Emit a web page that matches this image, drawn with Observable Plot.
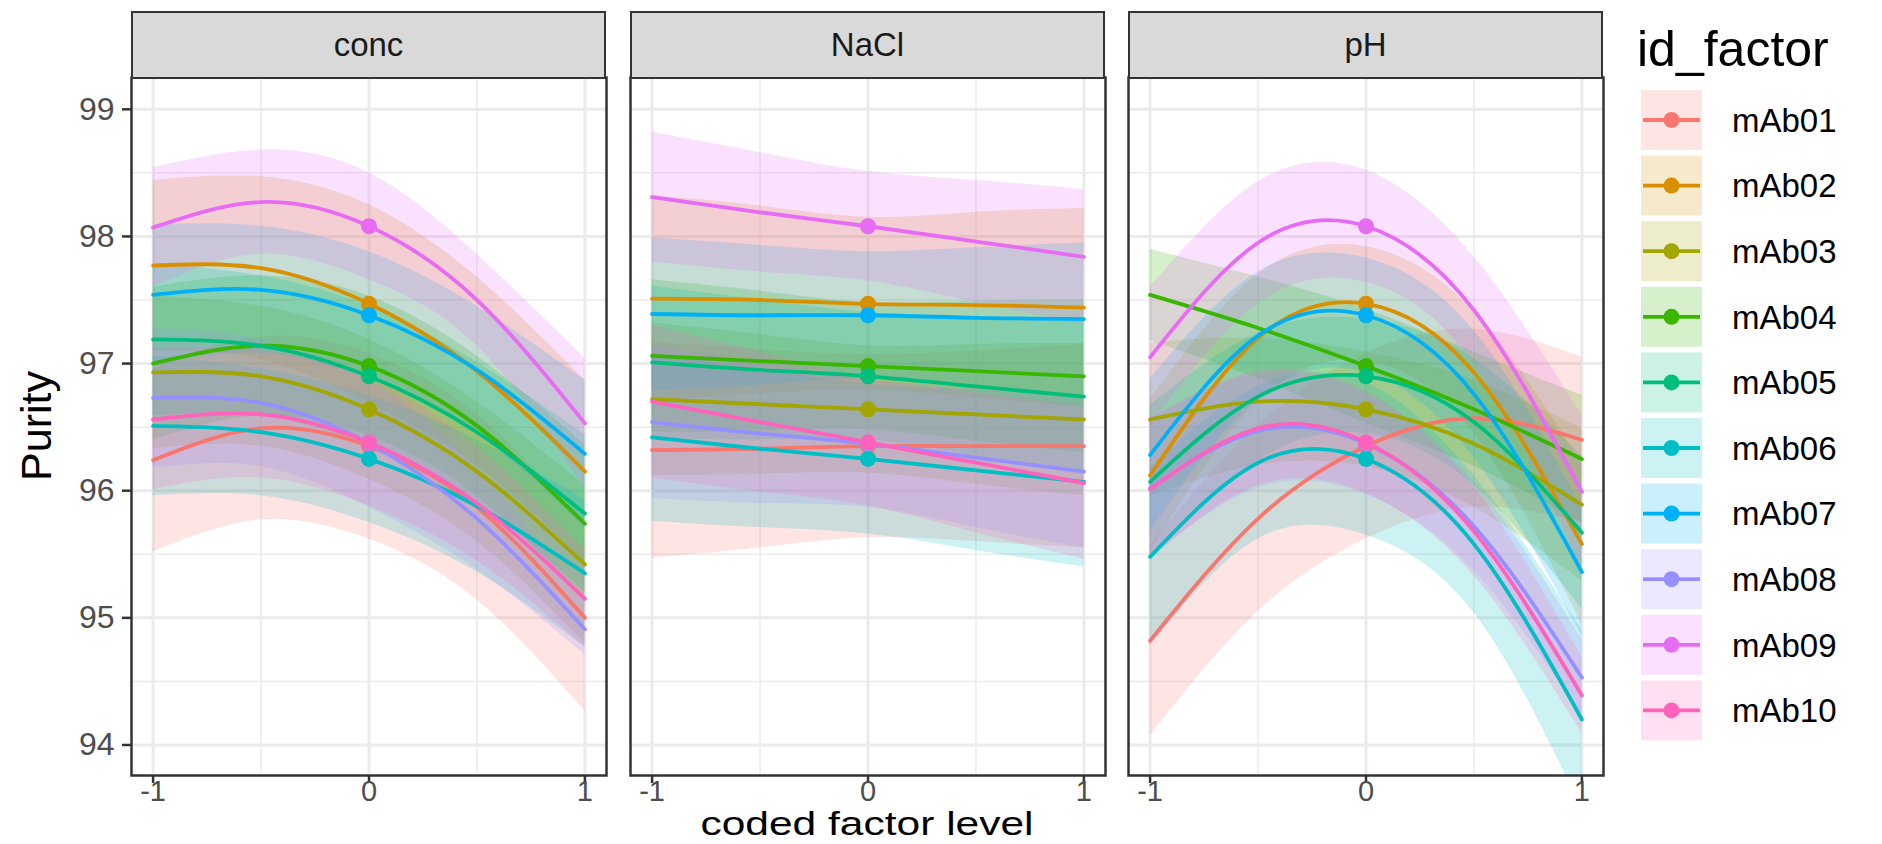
<!DOCTYPE html>
<html><head><meta charset="utf-8">
<script src="https://cdn.jsdelivr.net/npm/d3@7"></script>
<script src="https://cdn.jsdelivr.net/npm/@observablehq/plot@0.6"></script>
<style>
body{margin:0;background:#fff;}
#fig{position:relative;width:1882px;height:844px;font-family:"Liberation Sans",Arial,Helvetica,sans-serif;overflow:hidden;}
.strip{position:absolute;box-sizing:border-box;background:#D9D9D9;border:2.5px solid #333;display:flex;align-items:center;justify-content:center;font-size:33px;color:#1A1A1A;}
.panel{position:absolute;}
.title{position:absolute;color:#000;white-space:nowrap;}
</style></head>
<body><div id="fig"></div>
<script>
// ---- data ----
const ids = ["mAb01","mAb02","mAb03","mAb04","mAb05","mAb06","mAb07","mAb08","mAb09","mAb10"];
const colors = ["#F8766D","#D89000","#A3A500","#39B600","#00BF7D","#00BFC4","#00B0F6","#9590FF","#E76BF3","#FF62BC"];
const factors = ["conc","NaCl","pH"];
const xLevels = [-1, -0.5, 0, 0.5, 1];
const yTicks = [94, 95, 96, 97, 98, 99];
const yMinor = [94.5, 95.5, 96.5, 97.5, 98.5];
const xTicks = [-1, 0, 1];
const xMinor = [-0.5, 0.5];

// fitted purity at xLevels, one row per mAb
const concFit = [
  [96.24, 96.49, 96.35, 95.87, 95.00],
  [97.77, 97.75, 97.47, 96.94, 96.15],
  [96.93, 96.90, 96.64, 96.15, 95.42],
  [97.00, 97.14, 96.98, 96.51, 95.74],
  [97.19, 97.14, 96.90, 96.46, 95.82],
  [96.51, 96.46, 96.25, 95.88, 95.35],
  [97.54, 97.58, 97.38, 96.95, 96.29],
  [96.73, 96.69, 96.37, 95.78, 94.91],
  [98.07, 98.27, 98.08, 97.50, 96.53],
  [96.56, 96.60, 96.38, 95.90, 95.15]
];
const naclFit = [
  [96.32, 96.33, 96.35, 96.35, 96.35],
  [97.51, 97.50, 97.47, 97.46, 97.44],
  [96.72, 96.68, 96.64, 96.60, 96.56],
  [97.06, 97.02, 96.98, 96.94, 96.90],
  [97.01, 96.95, 96.90, 96.82, 96.74],
  [96.42, 96.33, 96.25, 96.16, 96.07],
  [97.39, 97.38, 97.38, 97.36, 97.35],
  [96.54, 96.45, 96.37, 96.26, 96.15],
  [98.31, 98.19, 98.08, 97.96, 97.84],
  [96.70, 96.54, 96.38, 96.22, 96.06]
];
const phFit = [
  [94.82, 95.78, 96.35, 96.57, 96.40],
  [96.12, 97.20, 97.47, 96.93, 95.58],
  [96.56, 96.70, 96.64, 96.37, 95.89],
  [97.54, 97.28, 96.98, 96.64, 96.25],
  [96.07, 96.74, 96.90, 96.54, 95.67],
  [95.48, 96.22, 96.25, 95.58, 94.20],
  [96.28, 97.22, 97.38, 96.76, 95.36],
  [96.02, 96.47, 96.37, 95.72, 94.53],
  [97.05, 97.95, 98.08, 97.42, 95.99],
  [96.01, 96.49, 96.38, 95.68, 94.39]
];
// half-width of the confidence band at xLevels
const concHW = [
  [0.72, 0.72, 0.73, 0.73, 0.73],
  [0.67, 0.72, 0.78, 0.74, 0.72],
  [0.60, 0.55, 0.55, 0.55, 0.62],
  [0.60, 0.55, 0.55, 0.55, 0.62],
  [0.60, 0.55, 0.55, 0.55, 0.62],
  [0.55, 0.50, 0.50, 0.52, 0.58],
  [0.55, 0.50, 0.50, 0.50, 0.58],
  [0.55, 0.50, 0.50, 0.40, 0.20],
  [0.47, 0.41, 0.42, 0.36, 0.51],
  [0.55, 0.50, 0.50, 0.45, 0.38]
];
const naclHW = [
  [0.85, 0.78, 0.72, 0.75, 0.80],
  [0.81, 0.74, 0.68, 0.73, 0.78],
  [0.60, 0.55, 0.50, 0.55, 0.60],
  [0.60, 0.55, 0.50, 0.55, 0.60],
  [0.60, 0.55, 0.50, 0.55, 0.60],
  [0.66, 0.62, 0.59, 0.63, 0.67],
  [0.60, 0.55, 0.50, 0.55, 0.60],
  [0.60, 0.55, 0.50, 0.55, 0.60],
  [0.51, 0.47, 0.43, 0.48, 0.53],
  [0.60, 0.55, 0.50, 0.55, 0.60]
];
const phHW = [
  [0.75, 0.73, 0.73, 0.70, 0.65],
  [0.60, 0.50, 0.45, 0.48, 0.63],
  [0.60, 0.50, 0.45, 0.50, 0.60],
  [0.36, 0.40, 0.45, 0.45, 0.50],
  [0.60, 0.50, 0.45, 0.50, 0.60],
  [0.70, 0.60, 0.60, 0.54, 0.70],
  [0.60, 0.50, 0.45, 0.50, 0.50],
  [0.55, 0.45, 0.40, 0.35, 0.30],
  [0.55, 0.48, 0.44, 0.42, 0.60],
  [0.55, 0.45, 0.40, 0.35, 0.30]
];

// ---- build tables ----
const fits = [concFit, naclFit, phFit];
const hws = [concHW, naclHW, phHW];
function rowsFor(p) {
  const out = [];
  ids.forEach((id, i) => {
    xLevels.forEach((x, j) => {
      const y = fits[p][i][j], h = hws[p][i][j];
      out.push({id, x, y, lo: y - h, hi: y + h});
    });
  });
  return out;
}

// ---- layout ----
const fig = document.getElementById("fig");
const panelLeft = [131, 630, 1128];
const panelW = 475;
const panelTop = 77, panelBottom = 775;
const panelH = panelBottom - panelTop;

factors.forEach((f, p) => {
  const data = rowsFor(p);
  const ml = p === 0 ? panelLeft[0] : 2;
  const mt = 2, mr = 2, mb = 34;
  const marks = [
    Plot.gridY(yMinor, {stroke: "#EBEBEB", strokeOpacity: 1, strokeWidth: 1.5}),
    Plot.gridX(xMinor, {stroke: "#EBEBEB", strokeOpacity: 1, strokeWidth: 1.5}),
    Plot.gridY(yTicks, {stroke: "#EBEBEB", strokeOpacity: 1, strokeWidth: 3}),
    Plot.gridX(xTicks, {stroke: "#EBEBEB", strokeOpacity: 1, strokeWidth: 3}),
    Plot.areaY(data, {x: "x", y1: "lo", y2: "hi", z: "id", fill: "id", fillOpacity: 0.2, curve: "natural", clip: true}),
    Plot.line(data, {x: "x", y: "y", z: "id", stroke: "id", strokeWidth: 3.8, curve: "natural", clip: true}),
    Plot.dot(data.filter(d => d.x === 0), {x: "x", y: "y", fill: "id", r: 8, stroke: "none"}),
    Plot.frame({stroke: "#333", strokeWidth: 2.5}),
    Plot.axisX(xTicks, {tickSize: 8, tickPadding: -3, fontSize: 29, stroke: "#333", strokeWidth: 2.5, tickFormat: d => String(d), label: null})
  ];
  if (p === 0) {
    marks.push(Plot.axisY(yTicks, {tickSize: 9, tickPadding: 8, fontSize: 32, stroke: "#333", strokeWidth: 2.5, tickFormat: d => String(d), label: null}));
  }
  const chart = Plot.plot({
    width: ml + panelW + mr,
    height: mt + panelH + mb,
    marginLeft: ml, marginRight: mr, marginTop: mt, marginBottom: mb,
    style: {fontFamily: '"Liberation Sans", Arial, sans-serif', background: "transparent", overflow: "visible"},
    x: {domain: [-1.1, 1.1], axis: null},
    y: {domain: [93.76, 99.25], axis: null},
    color: {domain: ids, range: colors},
    marks
  });
  d3.select(chart).selectAll('g[aria-label="x-axis tick label"], g[aria-label="y-axis tick label"]').attr("fill", "#4D4D4D");
  chart.classList.add("panel");
  chart.style.left = (panelLeft[p] - ml) + "px";
  chart.style.top = (panelTop - mt) + "px";
  fig.appendChild(chart);

  const strip = document.createElement("div");
  strip.className = "strip";
  strip.style.left = panelLeft[p] + "px";
  strip.style.top = "11px";
  strip.style.width = panelW + "px";
  strip.style.height = (panelTop - 11 + 2) + "px";
  strip.textContent = f;
  fig.appendChild(strip);
});

// axis titles
const yt = document.createElement("div");
yt.className = "title";
yt.textContent = "Purity";
yt.style.fontSize = "43px";
yt.style.lineHeight = "43px";
yt.style.left = "36px"; yt.style.top = ((panelTop + panelBottom) / 2) + "px";
yt.style.transform = "translate(-50%,-50%) rotate(-90deg)";
fig.appendChild(yt);

const xt = document.createElement("div");
xt.className = "title";
xt.textContent = "coded factor level";
xt.style.fontSize = "34px";
xt.style.lineHeight = "34px";
xt.style.left = "867px"; xt.style.top = "806px";
xt.style.transform = "translateX(-50%) scaleX(1.25)";
fig.appendChild(xt);

// legend
const leg = d3.select(fig).append("svg")
  .attr("width", 262).attr("height", 844)
  .style("position", "absolute").style("left", "1620px").style("top", "0px")
  .style("font-family", '"Liberation Sans", Arial, sans-serif');
leg.append("text").attr("x", 17).attr("y", 66).attr("font-size", 50).attr("fill", "#000").text("id_factor");
ids.forEach((id, i) => {
  const top = 90 + i * 65.6;
  const g = leg.append("g").attr("transform", `translate(21,${top})`);
  g.append("rect").attr("width", 61).attr("height", 60).attr("fill", colors[i]).attr("fill-opacity", 0.2);
  g.append("line").attr("x1", 2).attr("x2", 59).attr("y1", 30).attr("y2", 30).attr("stroke", colors[i]).attr("stroke-width", 3.8);
  g.append("circle").attr("cx", 30.5).attr("cy", 30).attr("r", 8).attr("fill", colors[i]);
  g.append("text").attr("x", 91).attr("y", 30).attr("dy", "0.36em").attr("font-size", 33).attr("fill", "#000").text(id);
});
</script>
</body></html>
